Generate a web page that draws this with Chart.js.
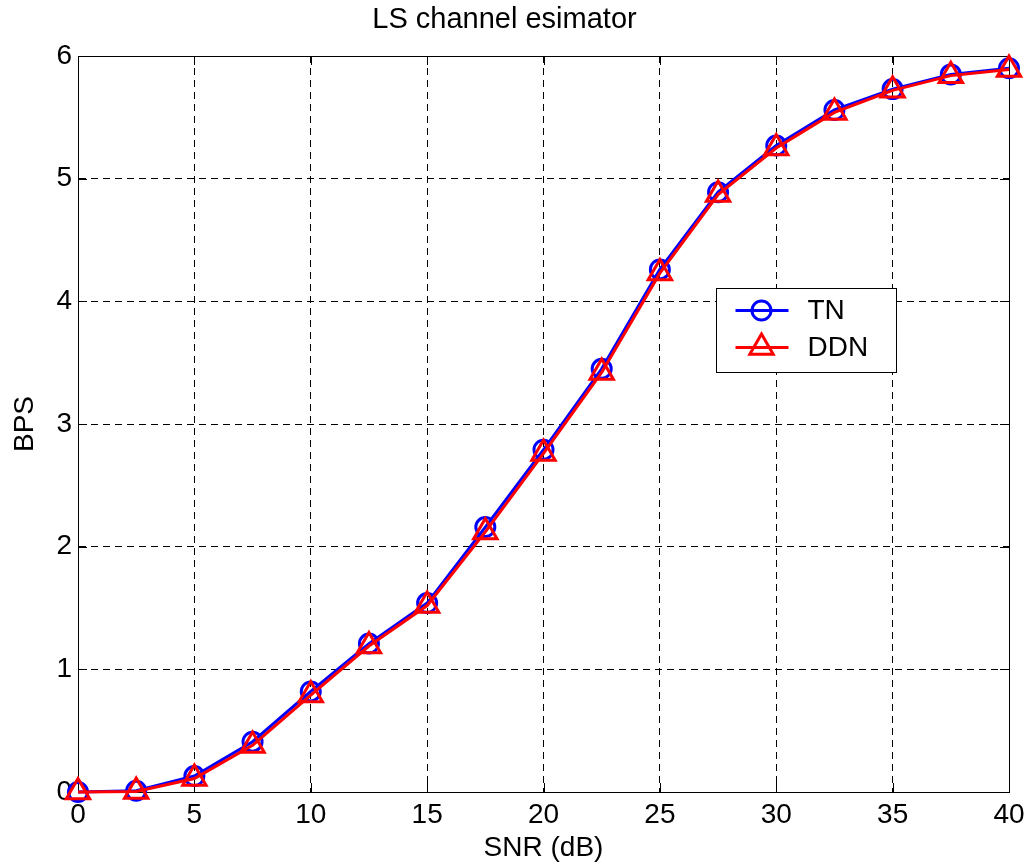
<!DOCTYPE html>
<html>
<head>
<meta charset="utf-8">
<title>LS channel esimator</title>
<script src="https://cdn.jsdelivr.net/npm/chart.js@4/dist/chart.umd.min.js"></script>
<style>
  html, body { margin: 0; padding: 0; background: #ffffff; }
  canvas { display: block; }
</style>
</head>
<body>
<canvas id="chart" width="1036" height="867"></canvas>
<script>
// SNR sweep (dB) and achieved bits per symbol for the two receivers
const snrDb = [0, 2.5, 5, 7.5, 10, 12.5, 15, 17.5, 20, 22.5, 25, 27.5, 30, 32.5, 35, 37.5, 40];
const bpsTN = [0, 0.01, 0.13, 0.41, 0.82, 1.21, 1.54, 2.16, 2.79, 3.45, 4.26, 4.89, 5.27, 5.56, 5.73, 5.85, 5.90];
const bpsDDN = [0, 0.005, 0.11, 0.38, 0.79, 1.19, 1.52, 2.12, 2.76, 3.42, 4.23, 4.87, 5.25, 5.54, 5.72, 5.84, 5.89];

// Axis tick values
const xTickValues = [0, 5, 10, 15, 20, 25, 30, 35, 40];
const yTickValues = [0, 1, 2, 3, 4, 5, 6];

const FONT = "'Liberation Sans', Arial, Helvetica, sans-serif";

function toPoints(xs, ys) {
  return xs.map((x, i) => ({ x: x, y: ys[i] }));
}

// Solid axes box plus short inward tick marks on all four sides
const axesBox = {
  id: 'axesBox',
  beforeDatasetsDraw(chart) {
    const { ctx, chartArea: a, scales } = chart;
    const len = 9;
    ctx.save();
    ctx.strokeStyle = '#000000';
    ctx.lineWidth = 1;
    ctx.setLineDash([]);
    ctx.beginPath();
    scales.x.ticks.forEach(t => {
      const px = Math.round(scales.x.getPixelForValue(t.value)) + 0.5;
      ctx.moveTo(px, a.bottom); ctx.lineTo(px, a.bottom - len);
      ctx.moveTo(px, a.top); ctx.lineTo(px, a.top + len);
    });
    scales.y.ticks.forEach(t => {
      const py = Math.round(scales.y.getPixelForValue(t.value)) + 0.5;
      ctx.moveTo(a.left, py); ctx.lineTo(a.left + len, py);
      ctx.moveTo(a.right, py); ctx.lineTo(a.right - len, py);
    });
    ctx.stroke();
    ctx.strokeRect(Math.round(a.left) + 0.5, Math.round(a.top) + 0.5,
                   Math.round(a.right - a.left), Math.round(a.bottom - a.top));
    ctx.restore();
  }
};

// Boxed legend inside the plot, each entry shows line + hollow marker
const insetLegend = {
  id: 'insetLegend',
  afterDraw(chart) {
    const { ctx, chartArea: a } = chart;
    const w = a.right - a.left, h = a.bottom - a.top;
    const bx = Math.round(a.left + w * 0.685) + 0.5;
    const by = Math.round(a.top + h * 0.315) + 0.5;
    const bw = 180, bh = 84;
    ctx.save();
    ctx.fillStyle = '#ffffff';
    ctx.fillRect(bx, by, bw, bh);
    ctx.strokeStyle = '#000000';
    ctx.lineWidth = 1;
    ctx.setLineDash([]);
    ctx.strokeRect(bx, by, bw, bh);
    chart.data.datasets.forEach((ds, i) => {
      const cy = by + 22 + i * 37;
      ctx.strokeStyle = ds.borderColor;
      ctx.lineWidth = ds.borderWidth;
      ctx.beginPath();
      ctx.moveTo(bx + 19, cy);
      ctx.lineTo(bx + 72, cy);
      ctx.stroke();
      ctx.fillStyle = 'rgba(0,0,0,0)';
      ctx.strokeStyle = ds.pointBorderColor;
      ctx.lineWidth = ds.pointBorderWidth;
      Chart.helpers.drawPoint(ctx, {
        pointStyle: ds.pointStyle,
        radius: ds.pointRadius,
        borderWidth: ds.pointBorderWidth,
        rotation: 0
      }, bx + 45, cy);
      ctx.fillStyle = '#000000';
      ctx.font = '28px ' + FONT;
      ctx.textAlign = 'left';
      ctx.textBaseline = 'middle';
      ctx.fillText(ds.label, bx + 91, cy + 1);
    });
    ctx.restore();
  }
};

const chart = new Chart(document.getElementById('chart'), {
  type: 'line',
  data: {
    datasets: [
      {
        label: 'TN',
        data: toPoints(snrDb, bpsTN),
        borderColor: '#0000ff',
        backgroundColor: 'rgba(0,0,0,0)',
        borderWidth: 3,
        pointStyle: 'circle',
        pointRadius: 9.5,
        pointBorderWidth: 3,
        pointBorderColor: '#0000ff',
        pointBackgroundColor: 'rgba(0,0,0,0)',
        tension: 0,
        clip: false,
        order: 1
      },
      {
        label: 'DDN',
        data: toPoints(snrDb, bpsDDN),
        borderColor: '#ff0000',
        backgroundColor: 'rgba(0,0,0,0)',
        borderWidth: 3,
        pointStyle: 'triangle',
        pointRadius: 13.5,
        pointBorderWidth: 3,
        pointBorderColor: '#ff0000',
        pointBackgroundColor: 'rgba(0,0,0,0)',
        tension: 0,
        clip: false,
        order: 0
      }
    ]
  },
  options: {
    responsive: false,
    devicePixelRatio: 1,
    animation: false,
    events: [],
    layout: { padding: { top: 0, right: 27, bottom: 0, left: 0 } },
    plugins: {
      legend: { display: false },
      tooltip: { enabled: false },
      title: {
        display: true,
        text: 'LS channel esimator',
        color: '#000000',
        font: { family: FONT, size: 29, weight: 'normal', lineHeight: 1.2 },
        padding: { top: 3, bottom: 18.2 }
      }
    },
    scales: {
      x: {
        type: 'linear',
        min: 0,
        max: 40,
        afterBuildTicks(scale) { scale.ticks = xTickValues.map(v => ({ value: v })); },
        afterFit(scale) { scale.height = 75; },
        ticks: {
          color: '#000000',
          font: { family: FONT, size: 28 },
          padding: 6,
          maxRotation: 0,
          autoSkip: false
        },
        grid: { color: '#000000', lineWidth: 1, drawTicks: false },
        border: { display: true, color: '#000000', width: 1, dash: [7, 5] },
        title: {
          display: true,
          text: 'SNR (dB)',
          color: '#000000',
          font: { family: FONT, size: 28, lineHeight: 1.2 },
          padding: { top: 0, bottom: 2 }
        }
      },
      y: {
        type: 'linear',
        min: 0,
        max: 6,
        afterBuildTicks(scale) { scale.ticks = yTickValues.map(v => ({ value: v })); },
        afterFit(scale) { scale.width = 78; },
        ticks: {
          color: '#000000',
          font: { family: FONT, size: 28 },
          padding: 6,
          autoSkip: false
        },
        grid: { color: '#000000', lineWidth: 1, drawTicks: false },
        border: { display: true, color: '#000000', width: 1, dash: [7, 5] },
        title: {
          display: true,
          text: 'BPS',
          color: '#000000',
          font: { family: FONT, size: 28, lineHeight: 1.2 },
          padding: { top: 8, bottom: 0 }
        }
      }
    }
  },
  plugins: [axesBox, insetLegend]
});
</script>
</body>
</html>
